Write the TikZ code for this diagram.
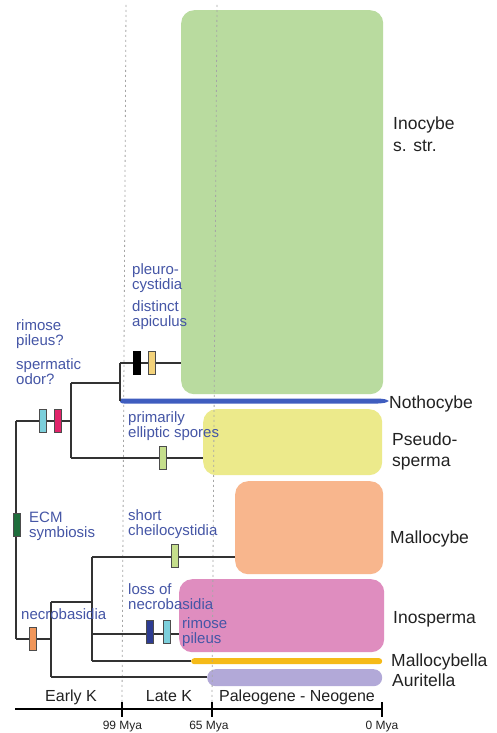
\documentclass[tikz,border=0pt]{standalone}
\usepackage{fontspec}
\setmainfont{Liberation Sans}
\definecolor{inogreen}{HTML}{B9DB9F}
\definecolor{pseudoyellow}{HTML}{ECEA8B}
\definecolor{malloorange}{HTML}{F8B68D}
\definecolor{inopink}{HTML}{DF8DBF}
\definecolor{mallogold}{HTML}{F5BA18}
\definecolor{auripurple}{HTML}{B2A9D8}
\definecolor{nothoblue}{HTML}{3F5DBF}
\definecolor{traitblue}{HTML}{4556A6}
\definecolor{barcyan}{HTML}{7CCFDB}
\definecolor{barmagenta}{HTML}{E0246A}
\definecolor{baryellow}{HTML}{F3D27A}
\definecolor{barlgreen}{HTML}{C5DE8C}
\definecolor{barecm}{HTML}{1F6E3C}
\definecolor{barorange}{HTML}{F0965A}
\definecolor{bardblue}{HTML}{2D3C92}
\definecolor{linegray}{HTML}{333333}
\definecolor{taxongray}{HTML}{222222}
\begin{document}
\begin{tikzpicture}[x=1pt,y=-1pt,
  clade/.style={rounded corners=13pt, inner sep=0pt, draw=none, anchor=north west},
  branch/.style={line width=1.2pt, draw=linegray},
  bar/.style={draw=black!70, line width=0.6pt, minimum width=7pt, minimum height=23pt, inner sep=0pt},
  trait/.style={text=traitblue, font=\fontsize{15}{14.5}\selectfont, align=left, anchor=base west, inner sep=0pt},
  taxon/.style={text=taxongray, font=\fontsize{17.5}{21}\selectfont, align=left, anchor=base west, inner sep=0pt},
  era/.style={text=taxongray, font=\fontsize{16}{16}\selectfont, anchor=base, inner sep=0pt},
  mya/.style={text=taxongray, font=\fontsize{12}{12}\selectfont, anchor=base, inner sep=0pt},
  timeline/.style={draw=gray!70, line width=0.8pt, dash pattern=on 2pt off 3pt},
  axisline/.style={draw=black, line width=1.6pt}]
\useasboundingbox[fill=white] (0,0) rectangle (496,733);

% clade boxes
\node[clade, fill=inogreen, minimum width=202pt, minimum height=384pt] (inocybe) at (181,10) {};
\node[clade, fill=pseudoyellow, minimum width=179pt, minimum height=66pt] (pseudo) at (203,409) {};
\node[clade, fill=malloorange, minimum width=148pt, minimum height=93pt] (mallocybe) at (235,481) {};
\node[clade, fill=inopink, minimum width=205pt, minimum height=73pt] (inosperma) at (179,579) {};
\node[clade, fill=mallogold, rounded corners=3pt, minimum width=191pt, minimum height=6pt] (mallocybella) at (191,658) {};
\node[clade, fill=auripurple, rounded corners=8.5pt, minimum width=175pt, minimum height=17pt] (auritella) at (207,669) {};

% time lines
\coordinate (t99top) at (126,5);
\coordinate (t99bot) at (122,702);
\coordinate (t65top) at (217,5);
\coordinate (t65bot) at (212,702);
\draw[timeline] (t99top) -- (t99bot);
\draw[timeline] (t65top) -- (t65bot);

% tree coordinates
\coordinate (rootT) at (16,421);
\coordinate (rootB) at (16,639);
\coordinate (aT) at (71,383);
\coordinate (aB) at (71,458);
\coordinate (bT) at (120,363);
\coordinate (bB) at (120,401);
\coordinate (cT) at (51,602);
\coordinate (cB) at (51,677);
\coordinate (dT) at (92,557);
\coordinate (dM) at (92,634);
\coordinate (dB) at (92,661);

% Nothocybe bar
\fill[nothoblue] (119.4,396) -- (119.4,398.5) -- (378,398.5) .. controls (385,399) .. (389,401) .. controls (385,403) .. (378,403.5) -- (124,403.5) .. controls (120.6,403.5) and (119.4,402) .. (119.4,399);

% branches
\draw[branch] (rootT) -- (rootB);
\draw[branch] (rootT) -- (rootT -| aT);
\draw[branch] (aT) -- (aB);
\draw[branch] (aT) -- (aT -| bT);
\draw[branch] (bT) -- (bB);
\draw[branch] (bT) -- (bT -| inocybe.west);
\draw[branch] (aB) -- (aB -| pseudo.west);
\draw[branch] (rootB) -- (rootB -| cT);
\draw[branch] (cT) -- (cB);
\draw[branch] (cB) -- (cB -| auritella.west);
\draw[branch] (cT) -- (cT -| dT);
\draw[branch] (dT) -- (dB);
\draw[branch] (dT) -- (dT -| mallocybe.west);
\draw[branch] (dM) -- (dM -| inosperma.west);
\draw[branch] (dB) -- (dB -| mallocybella.west);

% character bars
\node[bar, fill=barcyan] (rimosebar) at (42.5,420.5) {};
\node[bar, fill=barmagenta] (odorbar) at (57.5,420.5) {};
\node[bar, fill=black, draw=black] (pleurobar) at (136.5,362.5) {};
\node[bar, fill=baryellow] (apicbar) at (152,362.5) {};
\node[bar, fill=barlgreen] (ellipbar) at (162.5,457.5) {};
\node[bar, fill=barecm] (ecmbar) at (17,525) {};
\node[bar, fill=barorange] (necrobar) at (32.5,638.5) {};
\node[bar, fill=barlgreen] (cheilobar) at (174.5,556) {};
\node[bar, fill=bardblue] (lossbar) at (149.5,631.5) {};
\node[bar, fill=barcyan] (rimose2bar) at (166.5,631.5) {};

% trait labels (base anchor = baseline of the last line)
\node[trait] (trimose) at (16,345) {rimose\\pileus?};
\node[trait] (todor) at (16,384) {spermatic\\odor?};
\node[trait] (tpleuro) at (132,289) {pleuro-\\cystidia};
\node[trait] (tapic) at (132,326) {distinct\\apiculus};
\node[trait] (tellip) at (128,437) {primarily\\elliptic spores};
\node[trait] (tecm) at (29,537) {ECM\\symbiosis};
\node[trait] (tnecro) at (21,619) {necrobasidia};
\node[trait] (tcheilo) at (128,535) {short\\cheilocystidia};
\node[trait] (tloss) at (128,609) {loss of\\necrobasidia};
\node[trait] (trimose2) at (182,643) {rimose\\pileus};

% taxon labels
\node[taxon] (linocybe) at (393,151) {Inocybe\\s. str.};
\node[taxon] (lnotho) at (389,408) {Nothocybe};
\node[taxon] (lpseudo) at (392,466) {Pseudo-\\sperma};
\node[taxon] (lmallocybe) at (390,543) {Mallocybe};
\node[taxon] (linosperma) at (393,623) {Inosperma};
\node[taxon] (lmallocybella) at (391,666) {Mallocybella};
\node[taxon] (lauritella) at (392,686) {Auritella};

% time axis
\coordinate (axL) at (15,709);
\coordinate (axR) at (383,709);
\coordinate (k99a) at (122,702);
\coordinate (k99b) at (122,717);
\coordinate (k65a) at (212,702);
\coordinate (k65b) at (212,717);
\coordinate (k0a) at (382,702);
\coordinate (k0b) at (382,717);
\draw[axisline] (axL) -- (axR);
\draw[axisline] (k99a) -- (k99b);
\draw[axisline] (k65a) -- (k65b);
\draw[axisline] (k0a) -- (k0b);
\node[era] (early) at (71,701) {Early K};
\node[era] (late) at (169,701) {Late K};
\node[era] (paleo) at (297,701) {Paleogene - Neogene};
\node[mya] (m99) at (122.5,729) {99 Mya};
\node[mya] (m65) at (209,729) {65 Mya};
\node[mya] (m0) at (382,729) {0 Mya};
\end{tikzpicture}
\end{document}
